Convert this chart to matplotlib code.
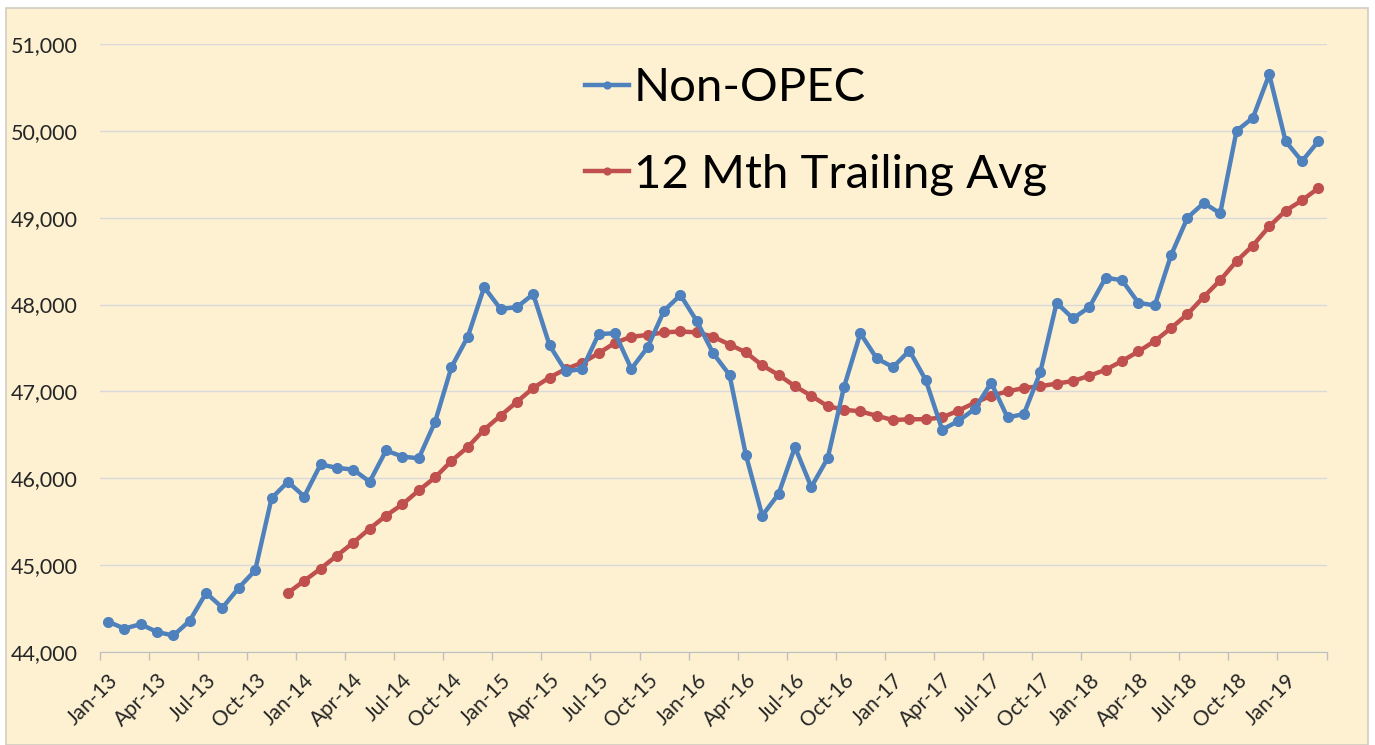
import matplotlib.pyplot as plt
from matplotlib.patches import Rectangle
from matplotlib.ticker import FuncFormatter

# Monthly categories Jan-13 .. Mar-19
months = ['Jan', 'Feb', 'Mar', 'Apr', 'May', 'Jun', 'Jul', 'Aug', 'Sep', 'Oct', 'Nov', 'Dec']
categories = [f"{m}-{y}" for y in range(13, 20) for m in months][:75]

# Non-OPEC production (kb/d)
non_opec = [44350, 44270, 44320, 44230, 44190, 44360, 44680, 44510, 44740, 44940, 45770, 45960,
            45790, 46160, 46120, 46100, 45960, 46320, 46250, 46230, 46650, 47280, 47630, 48200,
            47950, 47970, 48120, 47530, 47230, 47260, 47660, 47670, 47260, 47510, 47930, 48110,
            47810, 47440, 47190, 46270, 45570, 45820, 46360, 45900, 46230, 47050, 47670, 47380,
            47280, 47470, 47130, 46560, 46660, 46800, 47100, 46700, 46740, 47220, 48020, 47840,
            47970, 48310, 48280, 48020, 47990, 48570, 49000, 49170, 49050, 50000, 50150, 50650,
            49880, 49650, 49880]

# 12 month trailing average, starts at Dec-13
trailing_start = 11
trailing_avg = [44680, 44820, 44960, 45110, 45260, 45420, 45570, 45700, 45860, 46010, 46200, 46360,
                46560, 46720, 46880, 47040, 47160, 47260, 47330, 47440, 47560, 47630, 47650, 47680,
                47690, 47680, 47630, 47540, 47450, 47300, 47190, 47060, 46950, 46830, 46790, 46770,
                46720, 46670, 46680, 46680, 46700, 46780, 46870, 46950, 47000, 47040, 47060, 47090,
                47120, 47180, 47250, 47350, 47460, 47580, 47730, 47890, 48090, 48280, 48500, 48680,
                48900, 49080, 49200, 49340]

tick_labels = categories[::3]

bg = '#FDF1D2'
blue = '#4F81BD'
red = '#C0504D'

fig = plt.figure(figsize=(13.75, 7.45), dpi=100)
fig.patch.set_facecolor('white')
fig.patches.append(Rectangle((6 / 1375, 0), 1362 / 1375, 737 / 745, transform=fig.transFigure,
                             facecolor=bg, edgecolor='#D0CCC0', linewidth=1.2, zorder=-10))

ax = fig.add_axes([99.8 / 1375, 1 - 652 / 745, 1226.7 / 1375, 608 / 745])
ax.set_facecolor('none')

x = list(range(len(non_opec)))
xr = list(range(trailing_start, trailing_start + len(trailing_avg)))
ax.plot(xr, trailing_avg, color=red, lw=3.2, marker='o', ms=7, label='12 Mth Trailing Avg', zorder=3)
ax.plot(x, non_opec, color=blue, lw=3.2, marker='o', ms=7, label='Non-OPEC', zorder=4)

ax.set_xlim(-0.5, len(non_opec) - 0.5)
ax.set_ylim(44000, 51000)
ax.set_yticks(range(44000, 51001, 1000))
ax.yaxis.set_major_formatter(FuncFormatter(lambda v, p: f"{int(v):,}"))
ax.grid(axis='y', color='#D9D9D9', lw=1)
ax.set_axisbelow(True)

# tick marks at category boundaries, labels at categories
ax.set_xticks([i - 0.5 for i in range(0, len(non_opec) + 1, 3)])
ax.set_xticklabels([])
ax.set_xticks(list(range(0, len(non_opec), 3)), minor=True)
ax.set_xticklabels(tick_labels, minor=True, rotation=45, ha='right', rotation_mode='anchor')
ax.tick_params(axis='x', which='major', length=6, color='#BFBFBF', width=1)
ax.tick_params(axis='x', which='minor', length=0, pad=13, labelsize=15, labelcolor='#262626')
ax.tick_params(axis='y', length=0, pad=16, labelsize=15.5, labelcolor='#262626')
for lab in ax.get_xticklabels(minor=True) + ax.get_yticklabels():
    lab.set_family(['Lato', 'DejaVu Sans'])

for s in ['top', 'right', 'left']:
    ax.spines[s].set_visible(False)
ax.spines['bottom'].set_color('#BFBFBF')

h, l = ax.get_legend_handles_labels()
leg = ax.legend(h[::-1], l[::-1], loc='upper left', bbox_to_anchor=(0.3955, 0.962), frameon=False,
                prop={'family': 'Lato', 'size': 34}, handlelength=0.94, handletextpad=0.1,
                labelspacing=0.95, markerscale=0.7, borderpad=0, borderaxespad=0)
for line in leg.get_lines():
    line.set_linewidth(3.2)

fig.savefig('out.png', dpi=100, facecolor='white')
